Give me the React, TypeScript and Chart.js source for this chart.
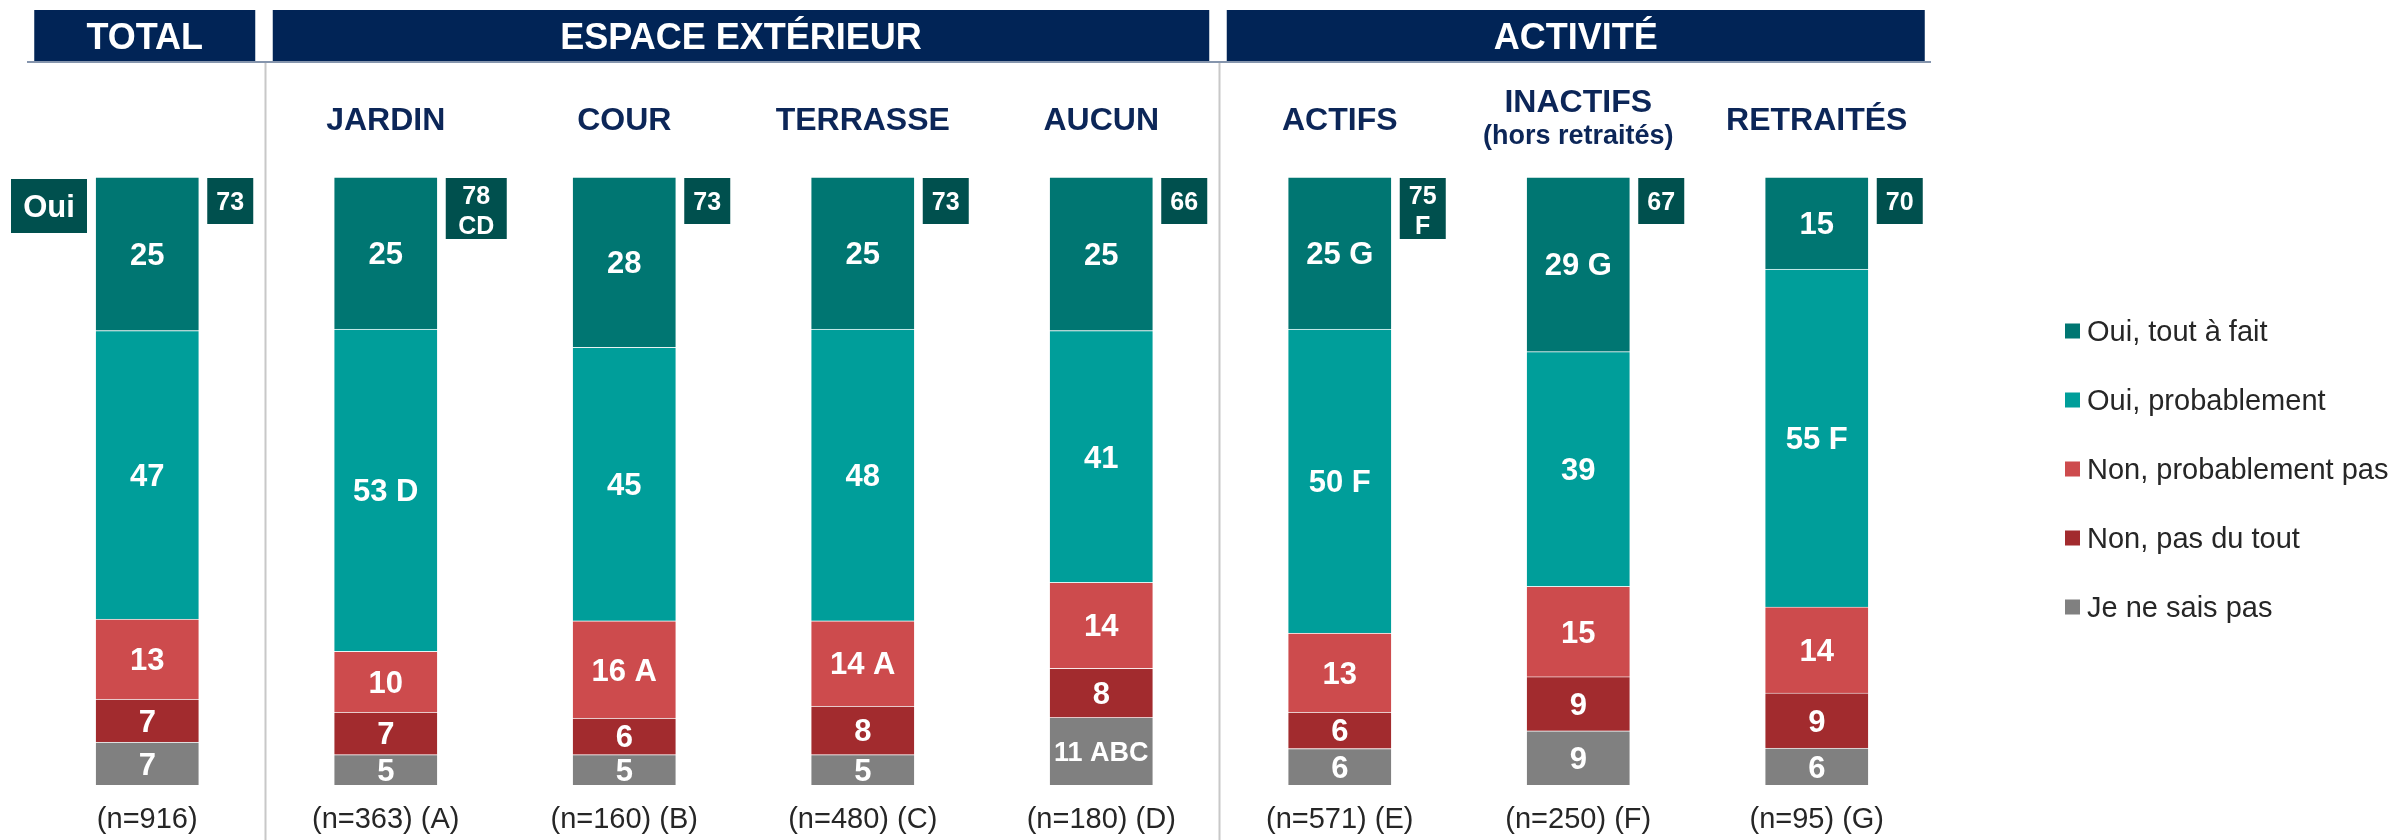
import React, { useEffect, useRef } from 'react';
import { Chart, registerables } from 'chart.js';

Chart.register(...registerables);

// ---------- DATA ----------
const categories = ['TOTAL', 'JARDIN', 'COUR', 'TERRASSE', 'AUCUN', 'ACTIFS', 'INACTIFS', 'RETRAITÉS'];
const columnTitles = ['', 'JARDIN', 'COUR', 'TERRASSE', 'AUCUN', 'ACTIFS', 'INACTIFS', 'RETRAITÉS'];
const columnSubtitles = ['', '', '', '', '', '', '(hors retraités)', ''];
const sampleLabels = ['(n=916)', '(n=363) (A)', '(n=160) (B)', '(n=480) (C)', '(n=180) (D)', '(n=571) (E)', '(n=250) (F)', '(n=95) (G)'];

const groupLabels = ['TOTAL', 'ESPACE EXTÉRIEUR', 'ACTIVITÉ'];
const groupFirst = [0, 1, 5];
const groupLast = [0, 4, 7];

const seriesNames = ['Oui, tout à fait', 'Oui, probablement', 'Non, probablement pas', 'Non, pas du tout', 'Je ne sais pas'];

const ouiToutAFait = [25, 25, 28, 25, 25, 25, 29, 15];
const ouiToutAFaitSig = ['', '', '', '', '', 'G', 'G', ''];
const ouiProbablement = [47, 53, 45, 48, 41, 50, 39, 55];
const ouiProbablementSig = ['', 'D', '', '', '', 'F', '', 'F'];
const nonProbablementPas = [13, 10, 16, 14, 14, 13, 15, 14];
const nonProbablementPasSig = ['', '', 'A', 'A', '', '', '', ''];
const nonPasDuTout = [7, 7, 6, 8, 8, 6, 9, 9];
const nonPasDuToutSig = ['', '', '', '', '', '', '', ''];
const jeNeSaisPas = [7, 5, 5, 5, 11, 6, 9, 6];
const jeNeSaisPasSig = ['', '', '', '', 'ABC', '', '', ''];

const ouiTotal = [73, 78, 73, 73, 66, 75, 67, 70];
const ouiTotalSig = ['', 'CD', '', '', '', 'F', '', ''];
const ouiBadge = 'Oui';

// ---------- STYLE ----------
const FONT = '"Liberation Sans", Arial, Helvetica, sans-serif';
const seriesColors = ['#007672', '#009e9a', '#cd4b4d', '#a22b2e', '#808080'];
const NAVY = '#012456';
const TITLE_NAVY = '#0c2658';
const BOX = '#00504e';
const TEXT_DARK = '#262626';

const seriesValues = [ouiToutAFait, ouiProbablement, nonProbablementPas, nonPasDuTout, jeNeSaisPas];
const seriesSig = [ouiToutAFaitSig, ouiProbablementSig, nonProbablementPasSig, nonPasDuToutSig, jeNeSaisPasSig];
const sums = categories.map((_, i) => seriesValues.reduce((s, arr) => s + arr[i], 0));

function capText(ctx: CanvasRenderingContext2D, text: string, x: number, cy: number, size: number) {
  ctx.fillText(text, x, cy + size * 0.358);
}

const decorPlugin = {
  id: 'decor',
  afterDatasetsDraw(chart: any) {
    const ctx: CanvasRenderingContext2D = chart.ctx;
    const xs = chart.scales.x;
    const px = (i: number) => xs.getPixelForValue(i);
    ctx.save();
    ctx.textAlign = 'center';
    ctx.textBaseline = 'alphabetic';

    // group headers
    groupLabels.forEach((g, k) => {
      const x0 = px(groupFirst[k]) - 113;
      const x1 = px(groupLast[k]) + 108;
      ctx.fillStyle = NAVY;
      ctx.fillRect(x0, 10, x1 - x0, 52);
      ctx.fillStyle = '#ffffff';
      ctx.font = `bold 36px ${FONT}`;
      capText(ctx, g, (x0 + x1) / 2, 36, 36);
    });
    // underline
    ctx.fillStyle = '#8595ad';
    ctx.fillRect(27, 61, 1904, 2);

    // separators
    ctx.fillStyle = '#c8c8c8';
    [1, 5].forEach((i) => {
      const b = (px(i - 1) + px(i)) / 2;
      ctx.fillRect(b - 2, 63, 2, 840 - 63);
    });

    // column titles
    ctx.fillStyle = TITLE_NAVY;
    categories.forEach((_, i) => {
      const t = columnTitles[i];
      if (!t) return;
      if (columnSubtitles[i]) {
        ctx.font = `bold 32px ${FONT}`;
        capText(ctx, t, px(i), 101, 32);
        ctx.font = `bold 27px ${FONT}`;
        capText(ctx, columnSubtitles[i], px(i), 134, 27);
      } else {
        ctx.font = `bold 32px ${FONT}`;
        capText(ctx, t, px(i), 119, 32);
      }
    });

    // Oui badge
    ctx.fillStyle = BOX;
    ctx.fillRect(11, 179, 76, 54);
    ctx.fillStyle = '#ffffff';
    ctx.font = `bold 31px ${FONT}`;
    capText(ctx, ouiBadge, 49, 206, 31);

    // segment labels
    const nDs = chart.data.datasets.length;
    for (let d = 0; d < nDs; d++) {
      const ds = chart.data.datasets[d];
      const meta = chart.getDatasetMeta(d);
      meta.data.forEach((el: any, i: number) => {
        const p = el.getProps(['x', 'y', 'base', 'width'], true);
        const txt = ds.rawValues[i] + (ds.sig[i] ? ' ' + ds.sig[i] : '');
        let size = 31;
        ctx.font = `bold ${size}px ${FONT}`;
        const maxW = p.width - 8;
        const w = ctx.measureText(txt).width;
        if (w > maxW) {
          size = Math.floor((size * maxW) / w);
          ctx.font = `bold ${size}px ${FONT}`;
        }
        ctx.fillStyle = '#ffffff';
        capText(ctx, txt, p.x, (p.y + p.base) / 2, size);
      });
    }

    // total boxes
    const topMeta = chart.getDatasetMeta(nDs - 1);
    topMeta.data.forEach((el: any, i: number) => {
      const p = el.getProps(['x', 'y', 'base', 'width'], true);
      ctx.font = `bold 25px ${FONT}`;
      const sig = ouiTotalSig[i];
      const sigW = sig ? ctx.measureText(sig).width : 0;
      const bw = Math.max(46, Math.ceil(sigW + 24));
      const bh = sig ? 61 : 46;
      const bx = p.x + p.width / 2 + 8;
      const by = 178;
      ctx.fillStyle = BOX;
      ctx.fillRect(bx, by, bw, bh);
      ctx.fillStyle = '#ffffff';
      if (sig) {
        capText(ctx, String(ouiTotal[i]), bx + bw / 2, by + 17, 25);
        capText(ctx, sig, bx + bw / 2, by + 47, 25);
      } else {
        capText(ctx, String(ouiTotal[i]), bx + bw / 2, by + bh / 2, 25);
      }
    });

    // sample sizes
    ctx.fillStyle = TEXT_DARK;
    ctx.font = `29px ${FONT}`;
    categories.forEach((_, i) => {
      capText(ctx, sampleLabels[i], px(i), 818, 29);
    });

    // legend (top to bottom in reading order)
    ctx.textAlign = 'left';
    ctx.font = `29px ${FONT}`;
    for (let k = 0; k < nDs; k++) {
      const ds = chart.data.datasets[nDs - 1 - k];
      const cy = 331 + k * 69;
      ctx.fillStyle = ds.backgroundColor;
      ctx.fillRect(2065, cy - 7.5, 15, 15);
      ctx.fillStyle = TEXT_DARK;
      capText(ctx, ds.label, 2087, cy, 29);
    }
    ctx.restore();
  },
};

export default function App() {
  const ref = useRef<HTMLCanvasElement>(null);
  useEffect(() => {
    if (!ref.current) return;
    const datasets = seriesValues
      .map((vals, k) => ({
        label: seriesNames[k],
        data: vals.map((v, i) => (v / sums[i]) * 100),
        rawValues: vals,
        sig: seriesSig[k],
        backgroundColor: seriesColors[k],
        borderColor: 'rgba(255,255,255,0.28)',
        borderWidth: 1,
        barThickness: 104,
        stack: 's',
      }))
      .reverse();
    const chart = new Chart(ref.current, {
      type: 'bar',
      data: { labels: categories, datasets: datasets as any },
      options: {
        responsive: false,
        animation: false,
        devicePixelRatio: 1,
        layout: { padding: { left: 28, right: 458, top: 177, bottom: 55 } },
        scales: {
          x: { stacked: true, display: false, offset: true },
          y: { stacked: true, display: false, min: 0, max: 100 },
        },
        plugins: { legend: { display: false }, tooltip: { enabled: false } },
      },
      plugins: [decorPlugin],
    });
    return () => chart.destroy();
  }, []);
  return (
    <div style={{ position: 'absolute', left: 0, top: 0, width: 2394, height: 840, background: '#ffffff' }}>
      <canvas ref={ref} width={2394} height={840} style={{ width: 2394, height: 840, display: 'block' }} />
    </div>
  );
}
